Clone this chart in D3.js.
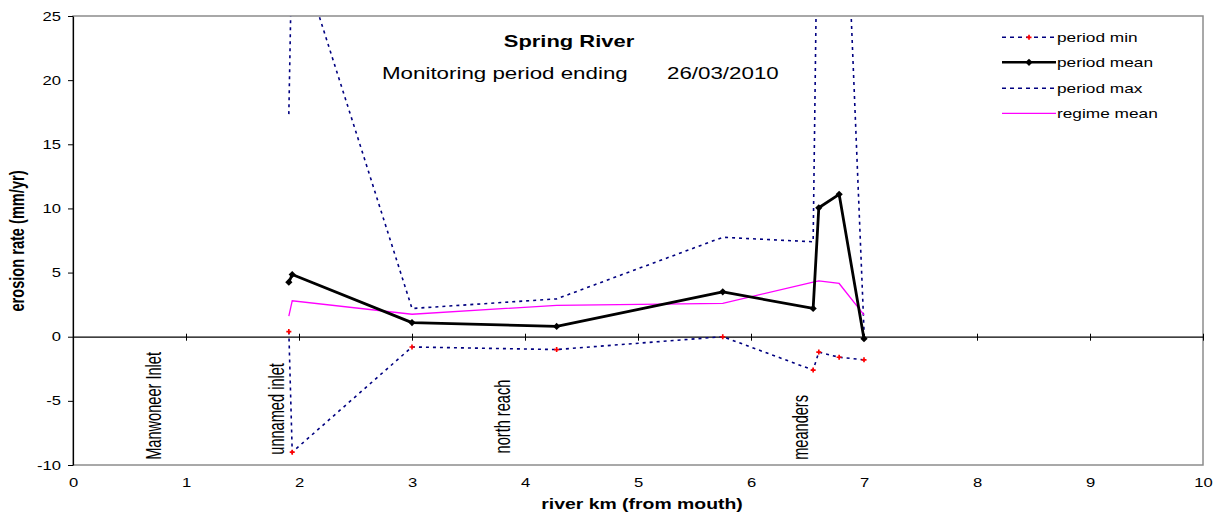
<!DOCTYPE html>
<html>
<head>
<meta charset="utf-8">
<script src="https://cdn.jsdelivr.net/npm/d3@7"></script>
<style>
  body { margin: 0; background: #fff; }
  text { font-family: "Liberation Sans", Arial, sans-serif; fill: #000; }
</style>
</head>
<body>
<svg id="chart" width="1222" height="517"></svg>
<script>
// river km of each monitoring site
const km = [1.91, 1.94, 3.0, 4.28, 5.75, 6.55, 6.6, 6.78, 7.0];
// erosion rates (mm/yr)
const periodMin  = [0.4, -9.0, -0.8, -1.0, 0.0, -2.6, -1.2, -1.6, -1.8];
const periodMean = [4.25, 4.85, 1.1, 0.8, 3.5, 2.2, 10.05, 11.1, -0.15];
const periodMax  = [17.35, 31.6, 2.2, 2.95, 7.75, 7.4, 42, 48, 0.5];
const regimeMean = [1.6, 2.8, 1.75, 2.45, 2.6, 4.25, 4.35, 4.15, 1.7];

const xTicks = [0, 1, 2, 3, 4, 5, 6, 7, 8, 9, 10];
const yTicks = [-10, -5, 0, 5, 10, 15, 20, 25];

// reach names written along the river
const siteNames = ["Manwoneer Inlet", "unnamed inlet", "north reach", "meanders"];
const siteKm    = [0.78, 1.87, 3.87, 6.5];
const siteY     = [-9.6, -9.2, -9.1, -9.6];

const legendNames = ["period min", "period mean", "period max", "regime mean"];

const SX = 1.33; // text in the original is stretched sideways

let chart = d3.select("#chart");

// scales
let x = d3.scaleLinear().domain([0, 10]).range([73, 1203]);
let y = d3.scaleLinear().domain([-10, 25]).range([465, 16]);

chart.append("rect")
    .attr("width", 1222).attr("height", 517).attr("fill", "#fff");

// plot frame
chart.append("rect")
    .attr("x", x(0)).attr("y", y(25))
    .attr("width", x(10) - x(0)).attr("height", y(-10) - y(25))
    .attr("fill", "none")
    .attr("stroke", "#8c8c8c")
    .attr("stroke-width", 1.5);

// y axis
let yAxis = d3.axisLeft(y).tickValues(yTicks).tickSize(5).tickSizeOuter(0)
    .tickFormat(function(d) { return String(d); });
let yAxisGroup = chart.append("g")
    .attr("transform", "translate(" + x(0) + ",0)")
    .call(yAxis);
yAxisGroup.select(".domain").attr("stroke", "#000").attr("stroke-width", 1.2);
yAxisGroup.selectAll(".tick line").attr("stroke", "#000");
yAxisGroup.selectAll(".tick text")
    .attr("x", -12 / SX)
    .attr("transform", "scale(" + SX + ",1)")
    .style("font-size", "12.5px")
    .style("font-family", "Liberation Sans, Arial, sans-serif");

// zero line with crossing ticks
let zeroAxis = d3.axisBottom(x).tickValues(xTicks).tickSize(4).tickSizeOuter(0).tickFormat("");
let zeroGroup = chart.append("g")
    .attr("transform", "translate(0," + y(0) + ")")
    .call(zeroAxis);
zeroGroup.select(".domain").attr("stroke", "#000").attr("stroke-width", 1.2);
zeroGroup.selectAll(".tick line").attr("y1", -3).attr("stroke", "#000");

// x tick labels below the plot
let xAxis = d3.axisBottom(x).tickValues(xTicks).tickSize(0).tickPadding(0)
    .tickFormat(function(d) { return String(d); });
let xAxisGroup = chart.append("g")
    .attr("transform", "translate(0," + y(-10) + ")")
    .call(xAxis);
xAxisGroup.select(".domain").remove();
xAxisGroup.selectAll(".tick text")
    .attr("y", 22)
    .attr("dy", null)
    .attr("transform", "scale(" + SX + ",1)")
    .style("font-size", "12.5px")
    .style("font-family", "Liberation Sans, Arial, sans-serif");

// axis titles
chart.append("text")
    .text("river km (from mouth)")
    .attr("transform", "translate(642,509) scale(" + SX + ",1)")
    .attr("text-anchor", "middle")
    .style("font-size", "14.6px")
    .style("font-weight", "bold");

chart.append("text")
    .text("erosion rate (mm/yr)")
    .attr("transform", "translate(24,241) scale(1.42,1) rotate(-90)")
    .attr("text-anchor", "middle")
    .style("font-size", "14.6px")
    .style("font-weight", "bold");

// chart titles
chart.append("text")
    .text("Spring River")
    .attr("transform", "translate(569,46.5) scale(" + SX + ",1)")
    .attr("text-anchor", "middle")
    .style("font-size", "16.5px")
    .style("font-weight", "bold");
chart.append("text")
    .text("Monitoring period ending")
    .attr("transform", "translate(382,79) scale(" + SX + ",1)")
    .style("font-size", "16.8px");
chart.append("text")
    .text("26/03/2010")
    .attr("transform", "translate(667,79) scale(" + SX + ",1)")
    .style("font-size", "16.8px");

// site labels
siteNames.forEach(function(name, i) {
    chart.append("text")
        .text(name)
        .attr("transform", "translate(" + x(siteKm[i]) + "," + y(siteY[i]) + ") scale(1.45,1) rotate(-90)")
        .style("font-size", "14.6px");
});

// clip the series to the plot area
chart.append("clipPath").attr("id", "plotclip")
    .append("rect")
    .attr("x", x(0)).attr("y", y(25))
    .attr("width", x(10) - x(0)).attr("height", y(-10) - y(25));

let plot = chart.append("g").attr("clip-path", "url(#plotclip)");

function seriesLine(values) {
    return d3.line()
        .x(function(d, i) { return x(km[i]); })
        .y(function(d) { return y(d); })(values);
}

// LINE - period max
plot.append("path")
    .attr("d", seriesLine(periodMax))
    .attr("fill", "none")
    .attr("stroke", "#000080")
    .attr("stroke-width", 1.6)
    .attr("stroke-dasharray", "3,4");

// LINE - period min
plot.append("path")
    .attr("d", seriesLine(periodMin))
    .attr("fill", "none")
    .attr("stroke", "#000080")
    .attr("stroke-width", 1.6)
    .attr("stroke-dasharray", "3,4");

// LINE - regime mean
plot.append("path")
    .attr("d", seriesLine(regimeMean))
    .attr("fill", "none")
    .attr("stroke", "#ff00ff")
    .attr("stroke-width", 1.3);

// LINE - period mean
plot.append("path")
    .attr("d", seriesLine(periodMean))
    .attr("fill", "none")
    .attr("stroke", "#000")
    .attr("stroke-width", 2.8)
    .attr("stroke-linejoin", "round");

let diamond = d3.symbol().type(d3.symbolSquare).size(26);
let plus = d3.symbol().type(d3.symbolCross).size(14);

plot.selectAll(".meanpt")
    .data(periodMean)
    .enter().append("path")
    .attr("class", "meanpt")
    .attr("d", diamond)
    .attr("transform", function(d, i) { return "translate(" + x(km[i]) + "," + y(d) + ") rotate(45)"; })
    .attr("fill", "#000");

plot.selectAll(".minpt")
    .data(periodMin)
    .enter().append("path")
    .attr("class", "minpt")
    .attr("d", plus)
    .attr("transform", function(d, i) { return "translate(" + x(km[i]) + "," + y(d) + ")"; })
    .attr("fill", "#ff0000");

// LEGEND
let legendY = [37.3, 62.3, 88.3, 113.3];
let legend = chart.append("g");
legendNames.forEach(function(name, i) {
    let row = legend.append("g").attr("transform", "translate(0," + legendY[i] + ")");
    let ln = row.append("line")
        .attr("x1", 1002).attr("x2", 1056)
        .attr("y1", 0).attr("y2", 0);
    if (i === 0 || i === 2) {
        ln.attr("stroke", "#000080").attr("stroke-width", 1.6).attr("stroke-dasharray", "4,4");
    } else if (i === 1) {
        ln.attr("stroke", "#000").attr("stroke-width", 2.4);
    } else {
        ln.attr("stroke", "#ff00ff").attr("stroke-width", 1.3);
    }
    if (i === 0) {
        row.append("path").attr("d", plus).attr("transform", "translate(1029,0)").attr("fill", "#ff0000");
    }
    if (i === 1) {
        row.append("path").attr("d", diamond).attr("transform", "translate(1029,0) rotate(45)").attr("fill", "#000");
    }
    row.append("text")
        .text(name)
        .attr("transform", "translate(1057,0) scale(" + SX + ",1)")
        .attr("dy", "0.35em")
        .style("font-size", "13px");
});
</script>
</body>
</html>
